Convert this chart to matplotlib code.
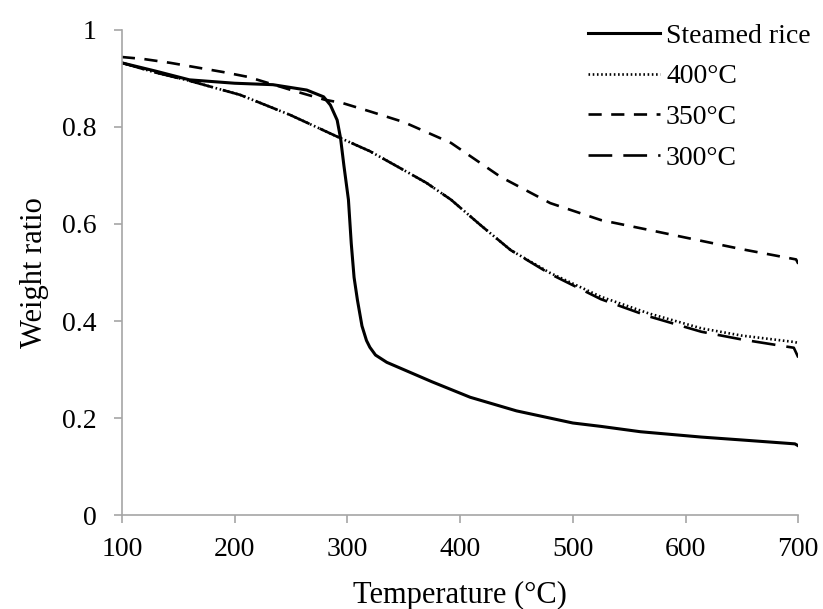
import matplotlib.pyplot as plt
from matplotlib.ticker import FuncFormatter

# Steamed rice (solid)
rice_T = [100, 130, 160, 200, 234, 264, 279, 285, 291, 294, 297, 301, 303.5, 306, 309,
          313, 317, 320, 325, 335, 350, 375, 409, 450, 500, 525, 560, 614, 650, 697, 700]
rice_W = [0.932, 0.915, 0.897, 0.890, 0.887, 0.876, 0.862, 0.845, 0.814, 0.777, 0.72, 0.65, 0.56, 0.49, 0.443,
          0.39, 0.36, 0.346, 0.33, 0.315, 0.300, 0.275, 0.243, 0.215, 0.190, 0.183, 0.172, 0.161, 0.155, 0.147, 0.143]

# 400 C (dotted)
t400_T = [100, 130, 160, 205, 249, 291, 320, 347, 370, 392, 418, 445, 480, 525, 567, 614, 650, 696, 700]
t400_W = [0.932, 0.912, 0.895, 0.866, 0.825, 0.780, 0.750, 0.715, 0.685, 0.650, 0.598, 0.546, 0.499, 0.450,
          0.416, 0.385, 0.370, 0.357, 0.355]

# 350 C (short dashes)
t350_T = [100, 119, 143, 190, 212, 256, 280, 296, 320, 350, 392, 436, 480, 525, 567, 600, 650, 698, 700]
t350_W = [0.944, 0.940, 0.932, 0.913, 0.903, 0.872, 0.856, 0.849, 0.832, 0.810, 0.767, 0.697, 0.643, 0.608,
          0.588, 0.572, 0.548, 0.527, 0.518]

# 300 C (long dashes)
t300_T = [100, 130, 160, 205, 249, 291, 320, 347, 370, 392, 418, 445, 480, 525, 567, 614, 650, 696, 700]
t300_W = [0.932, 0.912, 0.895, 0.866, 0.825, 0.780, 0.750, 0.715, 0.685, 0.650, 0.598, 0.546, 0.497, 0.445,
          0.410, 0.378, 0.362, 0.345, 0.325]

plt.rcParams['font.family'] = ['Liberation Serif', 'DejaVu Serif']

fig = plt.figure(figsize=(8.23, 6.09), dpi=100)
ax = fig.add_axes([0.148, 0.154, 0.822, 0.797])

lw = 1.9
ax.plot(rice_T, rice_W, color='black', lw=2.2, label='Steamed rice')
ax.plot(t400_T, t400_W, color='black', lw=lw, linestyle=(0, (0.6, 1.0)), label='400\u00b0C')
ax.plot(t350_T, t350_W, color='black', lw=lw, linestyle=(0, (5, 3.6)), label='350\u00b0C')
ax.plot(t300_T, t300_W, color='black', lw=lw, linestyle=(0, (9, 4.2)), label='300\u00b0C')

ax.set_xlim(100, 700)
ax.set_ylim(0, 1)
ax.set_xticks([100, 200, 300, 400, 500, 600, 700])
ax.set_yticks([0, 0.2, 0.4, 0.6, 0.8, 1])
ax.yaxis.set_major_formatter(FuncFormatter(lambda v, p: '%g' % v))

for s in ['top', 'right']:
    ax.spines[s].set_visible(False)
for s in ['left', 'bottom']:
    ax.spines[s].set_color('#a6a6a6')
    ax.spines[s].set_linewidth(1.2)
ax.tick_params(direction='out', length=6, width=1.2, color='#a6a6a6',
               labelsize=20, labelcolor='black')
ax.tick_params(axis='x', pad=10)
ax.tick_params(axis='y', pad=12)

ax.set_xlabel('Temperature (\u00b0C)', fontsize=22)
ax.set_ylabel('Weight ratio', fontsize=22)
ax.xaxis.set_label_coords(0.5, -0.136)
ax.yaxis.set_label_coords(-0.107, 0.5)

leg = ax.legend(loc='upper right', bbox_to_anchor=(0.985, 0.962), bbox_transform=fig.transFigure,
                frameon=False, fontsize=20, handlelength=2.6, handletextpad=0.2,
                labelspacing=0.55, borderaxespad=0, borderpad=0)

fig.savefig('out.png', dpi=100)
